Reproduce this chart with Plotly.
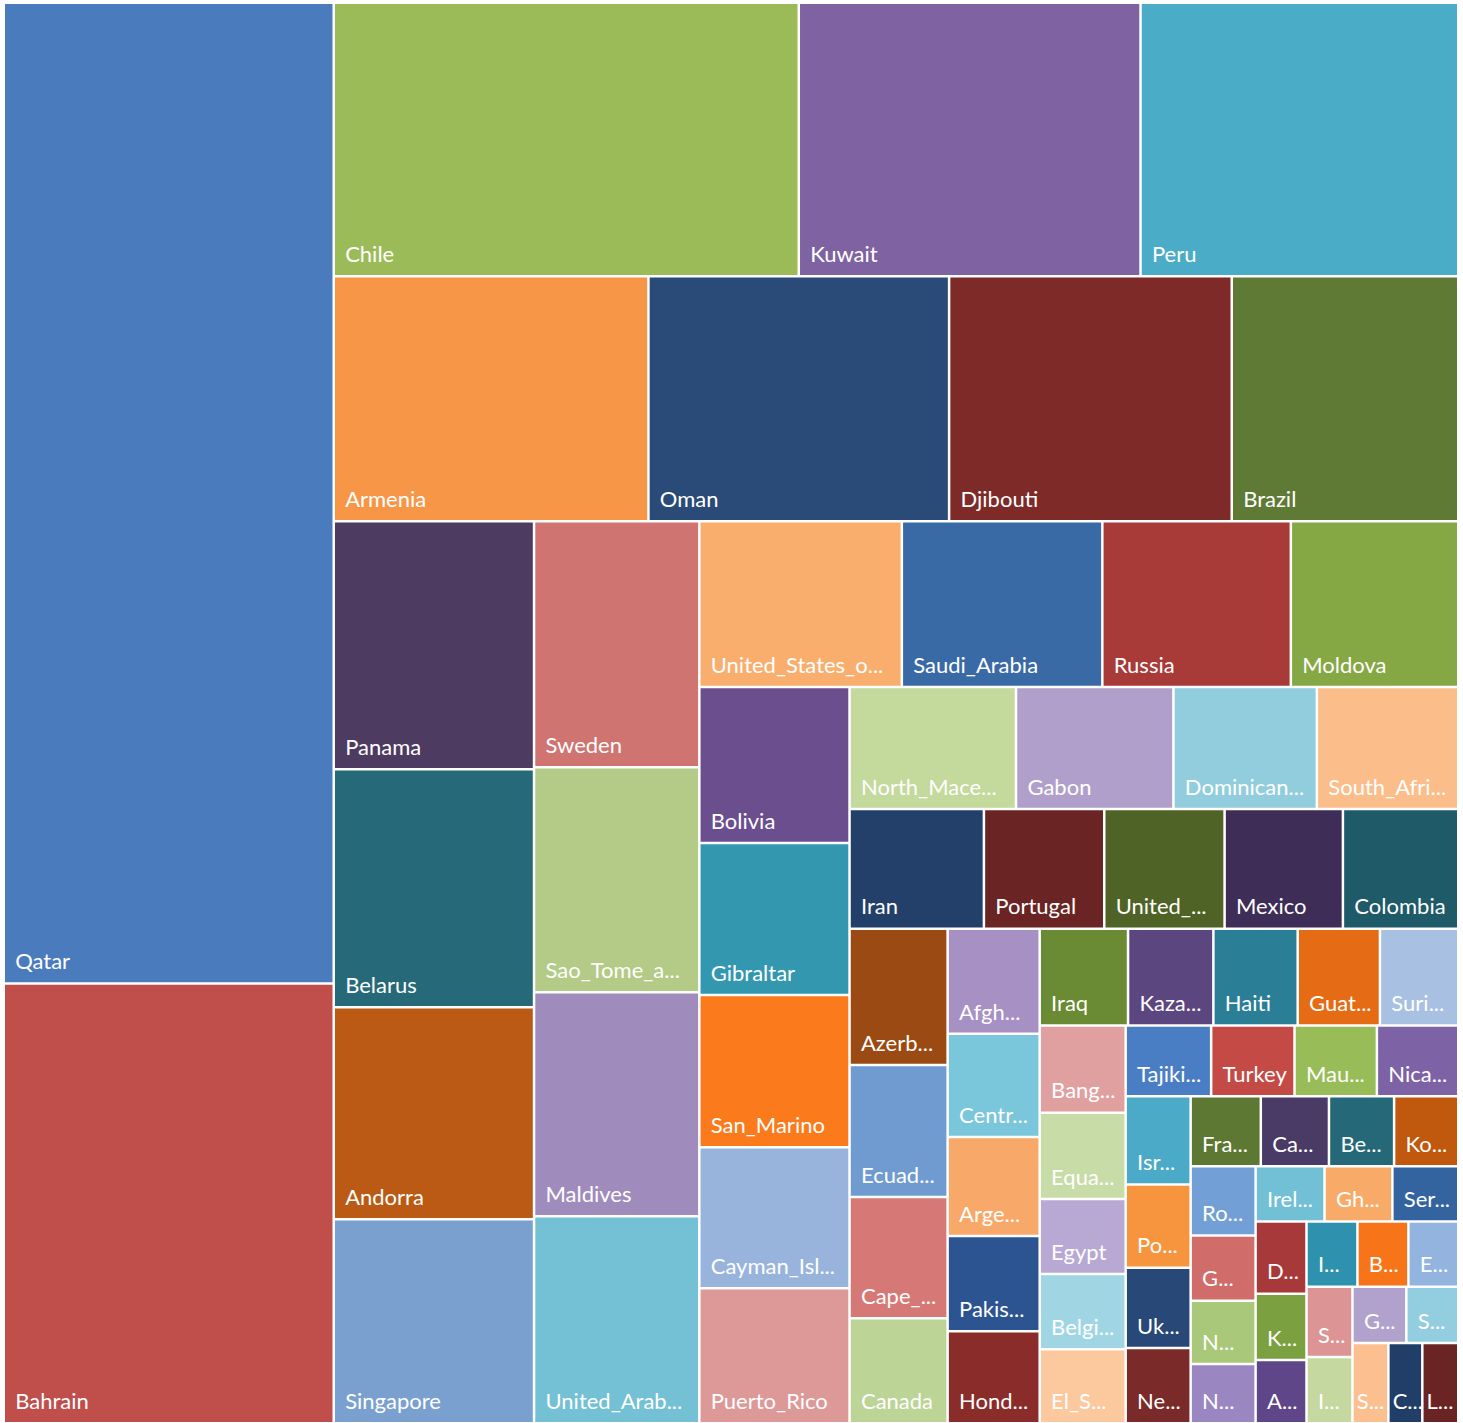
"""
Treemap of countries, Excel-style layout (strips cut off the remaining space
one after another, each strip filled with its countries).
"""

import plotly.graph_objects as go

COUNTRIES = [
    "Qatar", "Bahrain",
    "Chile", "Kuwait", "Peru",
    "Armenia", "Oman", "Djibouti", "Brazil",
    "Panama", "Belarus", "Andorra", "Singapore",
    "Sweden", "Sao_Tome_and_Principe", "Maldives", "United_Arab_Emirates",
    "United_States_of_America", "Saudi_Arabia", "Russia", "Moldova",
    "Bolivia", "Gibraltar", "San_Marino", "Cayman_Islands", "Puerto_Rico",
    "North_Macedonia", "Gabon", "Dominican_Republic", "South_Africa",
    "Iran", "Portugal", "United_Kingdom", "Mexico", "Colombia",
    "Azerbaijan", "Ecuador", "Cape_Verde", "Canada",
    "Afghanistan", "Central_African_Republic", "Argentina", "Pakistan", "Honduras",
    "Iraq", "Kazakhstan", "Haiti", "Guatemala", "Suriname",
    "Bangladesh", "Equatorial_Guinea", "Egypt", "Belgium", "El_Salvador",
    "Tajikistan", "Turkey", "Mauritania", "Nicaragua",
    "Israel", "Poland", "Ukraine", "Netherlands",
    "France", "Cameroon", "Bermuda", "Kosovo",
    "Romania", "Guinea", "Nepal", "Nigeria",
    "Ireland", "Ghana", "Serbia",
    "Denmark", "Kyrgyzstan", "Austria",
    "Italy", "Bosnia_and_Herzegovina", "Estonia",
    "Switzerland", "Iceland",
    "Germany", "Spain",
    "Senegal", "Costa_Rica", "Luxembourg",
]

# labels as they fit in the tiles
LABELS = [
    "Qatar", "Bahrain",
    "Chile", "Kuwait", "Peru",
    "Armenia", "Oman", "Djibouti", "Brazil",
    "Panama", "Belarus", "Andorra", "Singapore",
    "Sweden", "Sao_Tome_a...", "Maldives", "United_Arab...",
    "United_States_o...", "Saudi_Arabia", "Russia", "Moldova",
    "Bolivia", "Gibraltar", "San_Marino", "Cayman_Isl...", "Puerto_Rico",
    "North_Mace...", "Gabon", "Dominican...", "South_Afri...",
    "Iran", "Portugal", "United_...", "Mexico", "Colombia",
    "Azerb...", "Ecuad...", "Cape_...", "Canada",
    "Afgh...", "Centr...", "Arge...", "Pakis...", "Hond...",
    "Iraq", "Kaza...", "Haiti", "Guat...", "Suri...",
    "Bang...", "Equa...", "Egypt", "Belgi...", "El_S...",
    "Tajiki...", "Turkey", "Mau...", "Nica...",
    "Isr...", "Po...", "Uk...", "Ne...",
    "Fra...", "Ca...", "Be...", "Ko...",
    "Ro...", "G...", "N...", "N...",
    "Irel...", "Gh...", "Ser...",
    "D...", "K...", "A...",
    "I...", "B...", "E...",
    "S...", "I...",
    "G...", "S...",
    "S...", "C...", "L...",
]

VALUES = [
    32307, 14487,
    12700, 9333, 8677,
    7693, 7350, 6909, 5537,
    4960, 4760, 4240, 4080,
    4059, 3713, 3696, 3416,
    3353, 3320, 3121, 2772,
    2340, 2280, 2280, 2115, 2025,
    2025, 1915, 1745, 1720,
    1608, 1440, 1440, 1416, 1380,
    1333, 1294, 1186, 1029,
    966, 948, 911, 874, 846,
    854, 825, 815, 795, 757,
    748, 740, 645, 645, 636,
    604, 589, 582, 575,
    572, 540, 520, 488,
    490, 476, 455, 448,
    449, 423, 410, 384,
    380, 374, 363,
    367, 337, 321,
    332, 332, 325,
    322, 304,
    302, 291,
    288, 272, 288,
]

COLORS = [
    "#4a7cbd", "#c04e4b",
    "#9bbb59", "#7f62a2", "#4bacc8",
    "#f79646", "#2a4a78", "#7d2a28", "#5f7a34",
    "#4d3b62", "#266a7a", "#bb5a14", "#7aa0d0",
    "#d07472", "#b3cb86", "#a08bbd", "#74c0d4",
    "#f9ae6e", "#3a6aa6", "#a83a38", "#86a844",
    "#6a4e8e", "#3497b0", "#fb7a1c", "#98b4dc", "#dd9898",
    "#c4d99c", "#b09fca", "#92cdde", "#fbbd8a",
    "#22406a", "#6a2424", "#4f6326", "#3e2d56", "#1e5a68",
    "#9a4a12", "#6f9bd0", "#d67976", "#bcd496",
    "#a690c4", "#7ac6da", "#f8a96a", "#2c5490", "#8a2c2a",
    "#6a8a34", "#5b4680", "#2a7f96", "#e56b14", "#a8c0e2",
    "#e0a0a0", "#c8dca8", "#b8a8d4", "#a0d6e4", "#fcc89e",
    "#4a7ec4", "#c44a46", "#98bc58", "#7e62a6",
    "#4aaac8", "#f7943e", "#284878", "#7a2a28",
    "#5c7832", "#4a3a66", "#256878", "#c0580e",
    "#72a0d6", "#d06c6a", "#aac87a", "#9a86c0",
    "#72c0d6", "#f8aa68", "#3464a0",
    "#a8393a", "#7aa040", "#5e4688",
    "#2e92ae", "#f87418", "#94b4e0",
    "#dc9494", "#c4d8a0",
    "#b0a2cc", "#92cee0",
    "#fcc090", "#213e68", "#6a2424",
]

# countries per strip, and whether the strip is cut off as a column ("x")
# or as a row ("y") of the space that is left
STRIP_SIZES = [2, 3, 4, 4, 4, 4, 5, 4, 5, 4, 5, 5, 5, 4, 4, 4, 4, 3, 3, 3, 2, 2, 3]
STRIP_CUTS = "xyyxxyxyyxxyxyxyxyxyxyy"

LABEL_SIZE = 22
BASE_SIZE = 7   # small base font: its spaces/blank line push labels off the tile corner
NBSP = "\u00a0"


def tile_text(label, value):
    # indent a little (not in the narrowest tiles) and leave a short blank line under the label
    indent = NBSP * (4 if value >= 290 else 0)
    return f"{indent}<span style='font-size:{LABEL_SIZE}px'>{label}</span><br>{NBSP}"


def build_nodes():
    ids, parents, values, texts, colors = [], [], [], [], []

    def add(node_id, parent, value=0, text="", color="#ffffff"):
        ids.append(node_id)
        parents.append(parent)
        values.append(value)
        texts.append(text)
        colors.append(color)

    parent, depth, i = "", 0, 0
    for k, (n, cut) in enumerate(zip(STRIP_SIZES, STRIP_CUTS)):
        # slice-dice splits along x on even depths, along y on odd ones
        want = 0 if cut == "x" else 1
        if depth % 2 != want:
            add(f"wrap{k}", parent)
            parent = f"wrap{k}"
            depth += 1
        group, strip = f"group{k}", f"strip{k}"
        add(group, parent)
        add(strip, group)
        for _ in range(n):
            add(COUNTRIES[i], strip, VALUES[i], tile_text(LABELS[i], VALUES[i]), COLORS[i])
            i += 1
        parent = group
        depth += 1
    return ids, parents, values, texts, colors


ids, parents, values, texts, colors = build_nodes()

fig = go.Figure(go.Treemap(
    ids=ids,
    labels=ids,
    parents=parents,
    values=values,
    text=texts,
    branchvalues="remainder",
    sort=False,
    textinfo="text",
    textposition="bottom left",
    textfont={"family": "Lato, 'Open Sans', sans-serif", "size": BASE_SIZE, "color": "#ffffff"},
    marker={
        "colors": colors,
        "line": {"width": 0, "color": "#ffffff"},
        "pad": {"t": 0, "l": 0, "r": 0, "b": 0},
        "depthfade": False,
    },
    tiling={"packing": "slice-dice", "pad": 2.5},
    pathbar={"visible": False},
    hoverinfo="skip",
))

fig.update_layout(
    width=1463,
    height=1423,
    margin={"l": 5, "r": 6, "t": 4, "b": 1},
    paper_bgcolor="#ffffff",
    uniformtext={"minsize": BASE_SIZE, "mode": "show"},
)

fig.write_html(
    "out.html",
    config={"displayModeBar": False},
    post_script="document.body.style.margin = '0px';",
)
